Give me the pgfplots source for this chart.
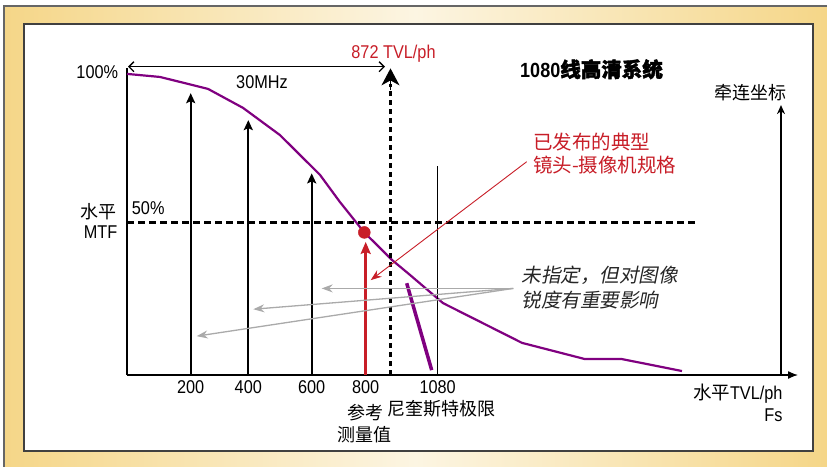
\documentclass[border=0pt]{standalone}
\usepackage{fontspec}
\usepackage{pgfplots}
\pgfplotsset{compat=1.18}
\usetikzlibrary{arrows.meta}
\setmainfont{Liberation Sans}[FakeStretch=0.88]
\newfontfamily\cjk{Noto Sans CJK SC}
\newfontfamily\cjkb{Noto Sans CJK SC}[FakeBold=2]
\newfontfamily\cjki{Noto Sans CJK SC}[FakeSlant=0.2]
\definecolor{gold}{RGB}{245,214,136}
\definecolor{cream}{RGB}{252,245,226}
\definecolor{mred}{RGB}{200,30,40}
\definecolor{mpurple}{RGB}{128,0,128}
\definecolor{mgray}{RGB}{170,170,170}
\newcommand{\fs}[1]{\fontsize{#1bp}{#1bp}\selectfont}
\begin{document}
\begin{tikzpicture}
\path[use as bounding box] (0,0) rectangle (827bp,-467bp);
\begin{scope}[x=1bp,y=-1bp]
\shade[left color=gold,right color=gold,middle color=cream] (4,6) rectangle (827,467);
\draw[black!60,line width=1.5bp] (4,467) -- (4,6) -- (827,6);
\fill[white] (24,24) rectangle (813,451);
\draw[black!75,line width=1.3bp] (24,24) rectangle (813,451);
\end{scope}
\begin{axis}[at={(127bp,-375bp)}, anchor=south west,
  x=1bp, y=3.06bp, xmin=127, xmax=798, ymin=0, ymax=100.2,
  enlargelimits=false, clip=false,
  axis x line=bottom, axis y line=left,
  x axis line style={line width=1.3bp,-{Latex[length=10bp,width=8bp]}},
  y axis line style={line width=1.3bp,-},
  xtick={190.7,248.3,311.7,365.7,437.7},
  xticklabels={200,400,600,800,1080},
  ytick=\empty, major tick length=0pt,
  xticklabel style={font=\fs{18.5}, anchor=north, yshift=-2bp},
  /pgf/number format/assume math mode=true]
% MTF curve
\addplot[mpurple, line width=2.2bp] coordinates {
 (127,98.4) (160,97.4) (208,93.5) (243,87.3) (280,78.4) (320,65.4)
 (340,56.5) (364,46.7) (392,37.6) (410,32.7) (443,23.5) (522,10.5)
 (585,5.2) (622,5.2) (682,1.3)};
\addplot[mpurple, line width=3.5bp] coordinates {(406.7,30.0) (431.7,1.6)};
% black arrows at 200, 400, 600
\addplot[black, line width=2bp, -{Stealth[length=10bp,width=9bp,inset=2bp]}] coordinates {(190.7,0) (190.7,92.1)};
\addplot[black, line width=2bp, -{Stealth[length=10bp,width=9bp,inset=2bp]}] coordinates {(248.3,0) (248.3,83.3)};
\addplot[black, line width=2bp, -{Stealth[length=10bp,width=9bp,inset=2bp]}] coordinates {(311.7,0) (311.7,65.9)};
% 50% dashed line
\addplot[black, line width=3bp, dash pattern=on 7bp off 4bp] coordinates {(127,50) (697,50)};
% 872 dotted line with arrow
\addplot[black, line width=3.3bp, dash pattern=on 5bp off 4bp] coordinates {(390.5,0) (390.5,95)};
\addplot[black, line width=1bp, -{Stealth[length=17bp,width=18bp,inset=5bp]}] coordinates {(390.5,93) (390.5,100.2)};
% red reference arrow and dot
\addplot[mred, line width=3bp, -{Stealth[length=12bp,width=10bp,inset=2bp]}] coordinates {(365.7,0) (365.7,43.5)};
\addplot[only marks, mark=*, mark size=6bp, mred] coordinates {(364.3,46.6)};
% Nyquist line
\addplot[black, line width=1bp] coordinates {(437.7,0) (437.7,68.3)};
% right axis arrow
\addplot[black, line width=1.3bp, -{Stealth[length=9bp,width=8bp]}] coordinates {(781,0) (781,88.2)};
% 30 MHz double arrow
\addplot[black, line width=1.3bp, {Straight Barb[length=5bp,width=10bp]}-{Straight Barb[length=5bp,width=10bp]}] coordinates {(128,100.75) (385,100.75)};
% red thin pointer
\addplot[mred, line width=0.9bp, -{Stealth[length=11bp,width=8bp]}] coordinates {(526.7,69.7) (370.7,31.0)};
% gray pointers
\addplot[mgray, line width=1.3bp, -{Stealth[length=11bp,width=8bp]}] coordinates {(513.3,28.3) (321.7,28.3)};
\addplot[mgray, line width=1.3bp, -{Stealth[length=11bp,width=8bp]}] coordinates {(513.3,28.3) (253.3,21.5)};
\addplot[mgray, line width=1.3bp, -{Stealth[length=11bp,width=8bp]}] coordinates {(513.3,28.3) (196.7,12.7)};
\end{axis}
\begin{scope}[x=1bp,y=-1bp]
\node[anchor=east,inner sep=0pt,font=\fs{18.5}] at (118.3,72) {100\%};
\node[inner sep=0pt,font=\fs{18.5}] at (262,81.7) {30MHz};
\node[inner sep=0pt,font=\fs{18.5},text=mred] at (393.5,54) {872 TVL/ph};
\node[anchor=west,inner sep=0pt,font=\fs{20.5}\bfseries] at (520,69.3) {1080{\cjkb 线高清系统}};
\node[inner sep=0pt,font=\fs{18}\cjk] at (750,93) {牵连坐标};
\node[anchor=west,inner sep=0pt,font=\fs{19.5}\cjk,text=mred] at (533,141.7) {已发布的典型};
\node[anchor=west,inner sep=0pt,font=\fs{19.5}\cjk,text=mred] at (533,165) {镜头-摄像机规格};
\node[anchor=east,inner sep=0pt,font=\fs{18}\cjk] at (117,211.7) {水平};
\node[anchor=east,inner sep=0pt,font=\fs{18.5}] at (117.5,231.7) {MTF};
\node[anchor=west,inner sep=0pt,font=\fs{18.5}] at (131.7,208.3) {50\%};
\node[anchor=west,inner sep=0pt,font=\fs{19.5}\cjki,text=black!85] at (521.7,275) {未指定，但对图像};
\node[anchor=west,inner sep=0pt,font=\fs{19.5}\cjki,text=black!85] at (521.7,300) {锐度有重要影响};
\node[inner sep=0pt,font=\fs{18}\cjk] at (365,412.7) {参考};
\node[inner sep=0pt,font=\fs{18}\cjk] at (364.3,435) {测量值};
\node[anchor=west,inner sep=0pt,font=\fs{18}\cjk] at (387,408.3) {尼奎斯特极限};
\node[anchor=east,inner sep=0pt,font=\fs{18.5}] at (782.7,393.3) {{\cjk 水平}TVL/ph};
\node[anchor=east,inner sep=0pt,font=\fs{18.5}] at (782.7,415) {Fs};
\end{scope}
\end{tikzpicture}
\end{document}
